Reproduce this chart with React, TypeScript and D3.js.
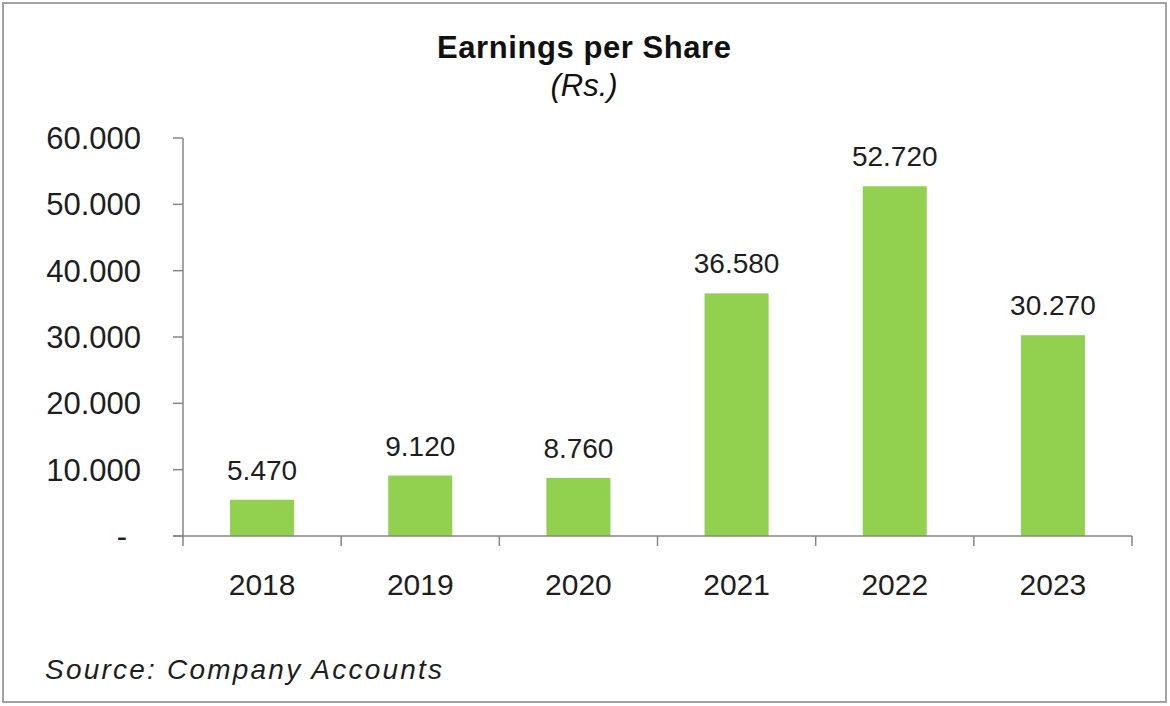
import React from "react";
import * as d3 from "d3";

const years: string[] = ["2018", "2019", "2020", "2021", "2022", "2023"];
const eps: number[] = [5.47, 9.12, 8.76, 36.58, 52.72, 30.27];
const yTicks: number[] = [0, 10, 20, 30, 40, 50, 60];
const titleText = "Earnings per Share";
const subtitleText = "(Rs.)";
const sourceText = "Source: Company Accounts";

const W = 1170;
const H = 706;
const FONT = "'Liberation Sans', Arial, Helvetica, sans-serif";
const TEXT = "#1e1e1e";
const AXIS = "#868686";
const BAR = "#92D050";

export default function App() {
  const x0 = 183;
  const x1 = 1132;
  const yBase = 536;
  const yTop = 138;

  const x = d3
    .scaleBand<string>()
    .domain(years)
    .range([x0, x1])
    .paddingInner(0.595)
    .paddingOuter(0.2975);
  const y = d3.scaleLinear().domain([0, 60]).range([yBase, yTop]);
  const step = (x1 - x0) / years.length;
  const fmt = d3.format(".3f");

  return (
    <div style={{ position: "absolute", left: 0, top: 0 }}>
      <svg width={W} height={H} style={{ display: "block", background: "#fff" }}>
        <rect x={3} y={3} width={1163} height={699} fill="#fff" stroke="#a3a3a3" strokeWidth={2} />

        <text x={584} y={58} textAnchor="middle" fontFamily={FONT} fontWeight="bold" fontSize={31} fill="#111" textLength={294} lengthAdjust="spacing">
          {titleText}
        </text>
        <text x={584} y={96} textAnchor="middle" fontFamily={FONT} fontStyle="italic" fontSize={31} fill="#111">
          {subtitleText}
        </text>

        {/* y axis */}
        <line x1={x0} x2={x0} y1={y(60)} y2={yBase} stroke={AXIS} strokeWidth={1.5} />
        {yTicks.map((t) => (
          <g key={t}>
            <line x1={x0 - 10} x2={x0} y1={y(t)} y2={y(t)} stroke={AXIS} strokeWidth={1.5} />
            <text
              x={t === 0 ? 127 : 141}
              y={y(t)}
              dy="0.35em"
              textAnchor="end"
              fontFamily={FONT}
              fontSize={31}
              fill={TEXT}
            >
              {t === 0 ? "-" : fmt(t)}
            </text>
          </g>
        ))}

        {/* bars */}
        {years.map((yr, i) => (
          <rect
            key={yr}
            x={x(yr)}
            y={y(eps[i])}
            width={x.bandwidth()}
            height={yBase - y(eps[i])}
            fill={BAR}
          />
        ))}

        {/* x axis */}
        <line x1={x0 - 10} x2={x1} y1={yBase} y2={yBase} stroke={AXIS} strokeWidth={1.5} />
        {d3.range(years.length + 1).map((i) => (
          <line key={i} x1={x0 + i * step} x2={x0 + i * step} y1={yBase} y2={yBase + 10} stroke={AXIS} strokeWidth={1.5} />
        ))}
        {years.map((yr) => (
          <text
            key={yr}
            x={(x(yr) as number) + x.bandwidth() / 2}
            y={595}
            textAnchor="middle"
            fontFamily={FONT}
            fontSize={30}
            fill={TEXT}
          >
            {yr}
          </text>
        ))}

        {/* value labels */}
        {years.map((yr, i) => (
          <text
            key={yr}
            x={(x(yr) as number) + x.bandwidth() / 2}
            y={y(eps[i]) - 20}
            textAnchor="middle"
            fontFamily={FONT}
            fontSize={28}
            fill={TEXT}
          >
            {fmt(eps[i])}
          </text>
        ))}

        <text x={45} y={679} fontFamily={FONT} fontStyle="italic" fontSize={28} fill={TEXT} textLength={397} lengthAdjust="spacing">
          {sourceText}
        </text>
      </svg>
    </div>
  );
}
